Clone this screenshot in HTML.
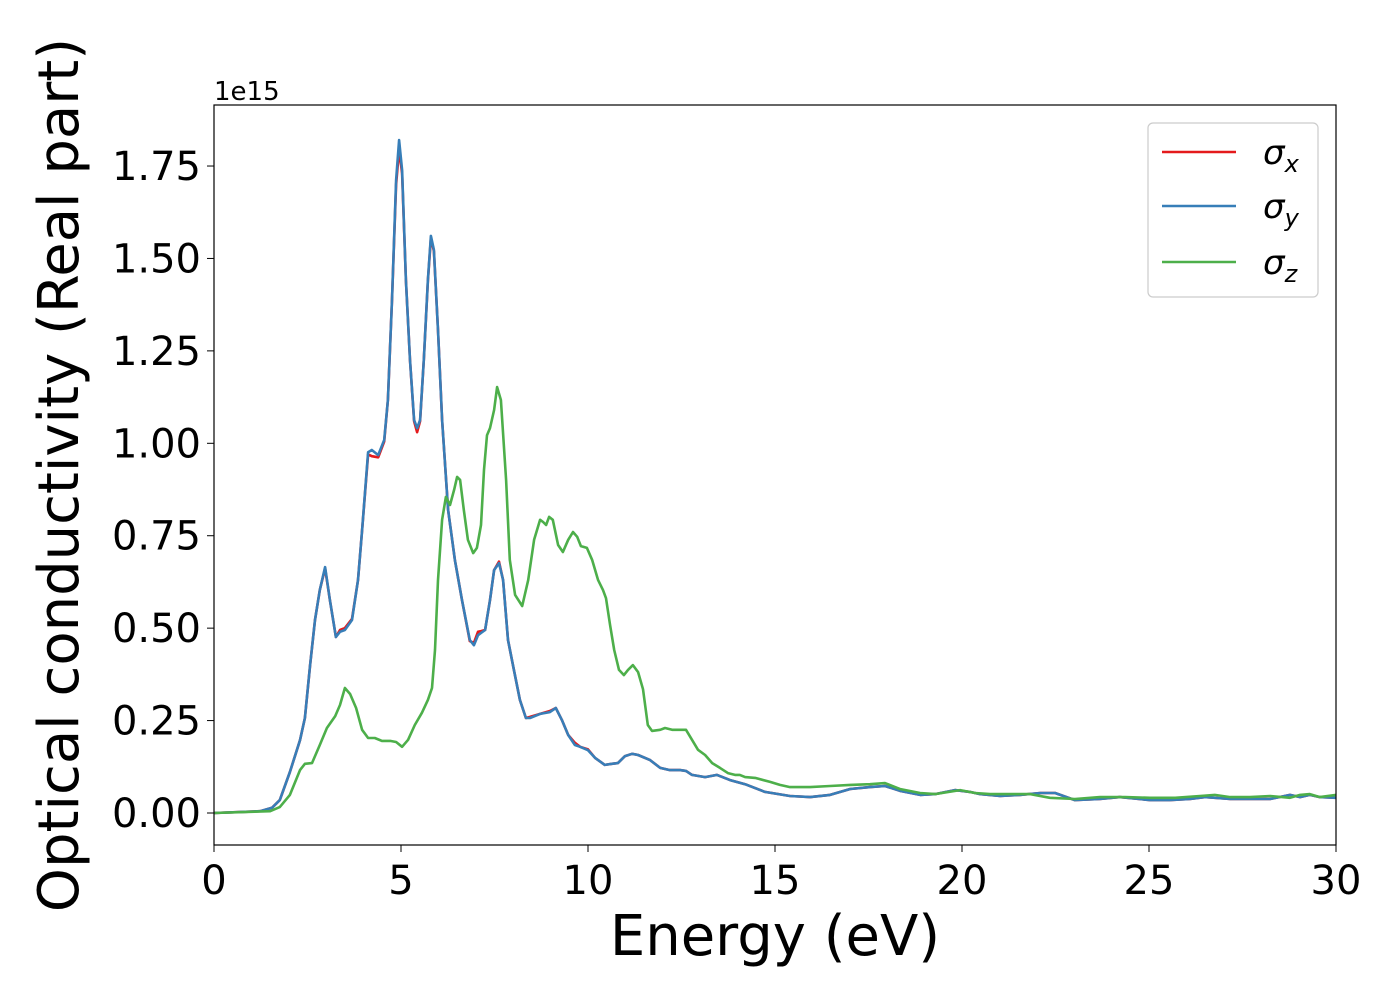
<!DOCTYPE html>
<html><head><meta charset="utf-8"><style>
body{margin:0;background:#fff;}
svg{display:block;font-family:"DejaVu Sans","Liberation Sans",sans-serif;}
</style></head><body>
<svg id="chart" width="1400" height="1000" viewBox="0 0 1400 1000" xmlns="http://www.w3.org/2000/svg">
<rect width="1400" height="1000" fill="#fff"/>
<g id="series"></g>
<rect x="214" y="105" width="1122" height="740" fill="none" stroke="#000" stroke-width="1.2"/>
<g id="xticks"></g>
<g id="yticks"></g>
<text x="214" y="100" font-size="26">1e15</text>
<text x="775" y="955" font-size="56" text-anchor="middle">Energy (eV)</text>
<text transform="translate(78,475) rotate(-90)" font-size="56" text-anchor="middle">Optical conductivity (Real part)</text>
<g>
<rect x="1148" y="123" width="170" height="174" rx="5" fill="#fff" stroke="#ccc" stroke-width="1.2"/>
<line x1="1162" y1="152" x2="1236" y2="152" stroke="#e41a1c" stroke-width="2.5"/>
<text x="1263" y="164" font-size="34" font-style="italic">σ<tspan font-size="24" dy="8">x</tspan></text>
<line x1="1162" y1="206" x2="1236" y2="206" stroke="#377eb8" stroke-width="2.5"/>
<text x="1263" y="218" font-size="34" font-style="italic">σ<tspan font-size="24" dy="8">y</tspan></text>
<line x1="1162" y1="262" x2="1236" y2="262" stroke="#4daf4a" stroke-width="2.5"/>
<text x="1263" y="274" font-size="34" font-style="italic">σ<tspan font-size="24" dy="8">z</tspan></text>
</g>
</svg>
<script>
const xyEnergy=[0,1.23,1.55,1.76,2.03,2.30,2.43,2.57,2.70,2.83,2.97,3.10,3.26,3.37,3.50,3.69,3.85,3.96,4.12,4.22,4.39,4.55,4.65,4.76,4.87,4.95,5.03,5.13,5.24,5.35,5.43,5.51,5.61,5.72,5.80,5.88,5.99,6.10,6.26,6.44,6.63,6.84,6.95,7.06,7.14,7.25,7.38,7.49,7.62,7.73,7.86,8.02,8.18,8.34,8.45,8.72,8.98,9.14,9.30,9.47,9.65,9.79,10.00,10.19,10.45,10.64,10.80,10.99,11.18,11.34,11.66,11.93,12.19,12.46,12.62,12.78,13.13,13.45,13.80,14.20,14.73,15.40,15.94,16.47,17.01,17.54,17.94,18.34,18.88,19.28,19.81,20.21,20.48,21.02,21.55,22.09,22.49,23.02,23.69,24.22,25.03,25.56,26.10,26.50,27.17,27.70,28.24,28.77,29.04,29.30,29.57,30];
const sigmaY=[0,0.005,0.014,0.035,0.111,0.197,0.257,0.400,0.522,0.603,0.665,0.576,0.476,0.490,0.495,0.522,0.630,0.765,0.976,0.982,0.968,1.009,1.117,1.388,1.712,1.820,1.739,1.442,1.225,1.063,1.041,1.063,1.225,1.442,1.561,1.523,1.306,1.063,0.820,0.684,0.576,0.468,0.454,0.481,0.487,0.495,0.576,0.657,0.676,0.630,0.468,0.387,0.306,0.257,0.257,0.268,0.273,0.284,0.252,0.211,0.184,0.179,0.170,0.149,0.130,0.133,0.135,0.154,0.160,0.157,0.143,0.122,0.116,0.116,0.114,0.103,0.097,0.103,0.089,0.078,0.057,0.046,0.043,0.049,0.065,0.070,0.073,0.060,0.049,0.051,0.062,0.057,0.051,0.046,0.049,0.054,0.054,0.035,0.038,0.043,0.035,0.035,0.038,0.043,0.038,0.038,0.038,0.049,0.043,0.049,0.043,0.041];
const sigmaX=[0,0.005,0.014,0.035,0.111,0.197,0.257,0.400,0.522,0.603,0.662,0.576,0.476,0.495,0.500,0.525,0.630,0.765,0.970,0.965,0.962,1.005,1.117,1.388,1.700,1.795,1.730,1.442,1.225,1.060,1.030,1.060,1.225,1.440,1.555,1.520,1.306,1.063,0.820,0.684,0.576,0.465,0.460,0.490,0.492,0.495,0.576,0.657,0.680,0.630,0.468,0.387,0.306,0.257,0.260,0.268,0.276,0.284,0.252,0.211,0.190,0.179,0.172,0.149,0.130,0.133,0.135,0.154,0.160,0.157,0.143,0.122,0.116,0.116,0.114,0.103,0.097,0.103,0.089,0.078,0.057,0.046,0.043,0.049,0.065,0.070,0.073,0.060,0.049,0.051,0.062,0.057,0.051,0.046,0.049,0.054,0.054,0.035,0.038,0.043,0.035,0.035,0.038,0.043,0.038,0.038,0.038,0.049,0.043,0.049,0.043,0.041];
const zEnergy=[0,1.50,1.76,2.03,2.30,2.43,2.62,2.83,3.02,3.24,3.37,3.50,3.64,3.80,3.96,4.12,4.30,4.49,4.71,4.87,5.03,5.19,5.37,5.56,5.72,5.83,5.91,5.99,6.10,6.20,6.31,6.42,6.50,6.58,6.68,6.79,6.93,7.03,7.14,7.22,7.30,7.38,7.49,7.57,7.67,7.81,7.91,8.05,8.24,8.40,8.56,8.72,8.80,8.88,8.96,9.06,9.20,9.33,9.47,9.60,9.71,9.81,9.97,10.11,10.27,10.40,10.48,10.59,10.70,10.83,10.96,11.07,11.20,11.34,11.47,11.60,11.71,11.93,12.06,12.25,12.46,12.62,12.78,12.94,13.13,13.32,13.53,13.74,13.93,14.06,14.20,14.47,14.87,15.13,15.40,15.94,16.47,17.01,17.54,17.94,18.34,18.88,19.28,19.95,20.35,20.75,21.28,21.82,22.35,23.02,23.69,24.36,25.03,25.70,26.36,26.76,27.17,27.70,28.24,28.77,29.04,29.30,29.57,30];
const sigmaZ=[0,0.005,0.016,0.049,0.116,0.133,0.135,0.184,0.230,0.262,0.292,0.338,0.322,0.284,0.225,0.203,0.203,0.195,0.195,0.192,0.179,0.198,0.238,0.271,0.306,0.338,0.441,0.630,0.793,0.855,0.833,0.874,0.909,0.901,0.820,0.739,0.703,0.717,0.779,0.928,1.022,1.041,1.090,1.152,1.117,0.901,0.685,0.590,0.560,0.630,0.739,0.793,0.787,0.779,0.801,0.793,0.725,0.706,0.739,0.760,0.747,0.722,0.717,0.685,0.630,0.603,0.581,0.508,0.441,0.387,0.373,0.387,0.400,0.381,0.335,0.238,0.222,0.225,0.230,0.225,0.225,0.225,0.198,0.171,0.157,0.135,0.122,0.108,0.103,0.103,0.097,0.095,0.084,0.076,0.070,0.070,0.073,0.076,0.078,0.081,0.065,0.054,0.051,0.062,0.054,0.051,0.051,0.051,0.041,0.038,0.043,0.043,0.041,0.041,0.046,0.049,0.043,0.043,0.046,0.041,0.049,0.051,0.043,0.049];
const xTicks=[0,5,10,15,20,25,30];
const yTicks=[0,0.25,0.5,0.75,1.0,1.25,1.5,1.75];
const yTickLabels=["0.00","0.25","0.50","0.75","1.00","1.25","1.50","1.75"];

const NS="http://www.w3.org/2000/svg";
const X0=214,X1=1336,XMAX=30,Y0=813,YPX=369.7;
function sx(e){return X0+(e/XMAX)*(X1-X0);}
function sy(v){return Y0-v*YPX;}
function pathFor(xs,ys){return xs.map((e,i)=>(i?'L':'M')+sx(e).toFixed(1)+' '+sy(ys[i]).toFixed(1)).join(' ');}
const g=document.getElementById('series');
function addLine(xs,ys,color,name){
  const p=document.createElementNS(NS,'path');
  p.setAttribute('d',pathFor(xs,ys));
  p.setAttribute('fill','none');p.setAttribute('stroke',color);
  p.setAttribute('stroke-width','2.6');p.setAttribute('stroke-linejoin','round');
  
  
  g.appendChild(p);
}
addLine(xyEnergy,sigmaX,'#e41a1c','sigma-x-line');
addLine(xyEnergy,sigmaY,'#377eb8','sigma-y-line');
addLine(zEnergy,sigmaZ,'#4daf4a','sigma-z-line');
const xg=document.getElementById('xticks');
xTicks.forEach(t=>{
  const l=document.createElementNS(NS,'line');
  l.setAttribute('x1',sx(t));l.setAttribute('x2',sx(t));l.setAttribute('y1',845);l.setAttribute('y2',852);l.setAttribute('stroke','#000');
  
  
  xg.appendChild(l);
  const tx=document.createElementNS(NS,'text');
  tx.setAttribute('x',sx(t));tx.setAttribute('y',894);tx.setAttribute('font-size','40');tx.setAttribute('text-anchor','middle');
  tx.textContent=t;
  
  
  xg.appendChild(tx);
});
const yg=document.getElementById('yticks');
yTicks.forEach((t,i)=>{
  const l=document.createElementNS(NS,'line');
  l.setAttribute('x1',207);l.setAttribute('x2',214);l.setAttribute('y1',sy(t));l.setAttribute('y2',sy(t));l.setAttribute('stroke','#000');
  
  
  yg.appendChild(l);
  const tx=document.createElementNS(NS,'text');
  tx.setAttribute('x',201);tx.setAttribute('y',sy(t)+14);tx.setAttribute('font-size','40');tx.setAttribute('text-anchor','end');
  tx.textContent=yTickLabels[i];
  
  
  yg.appendChild(tx);
});
</script>
</body></html>
